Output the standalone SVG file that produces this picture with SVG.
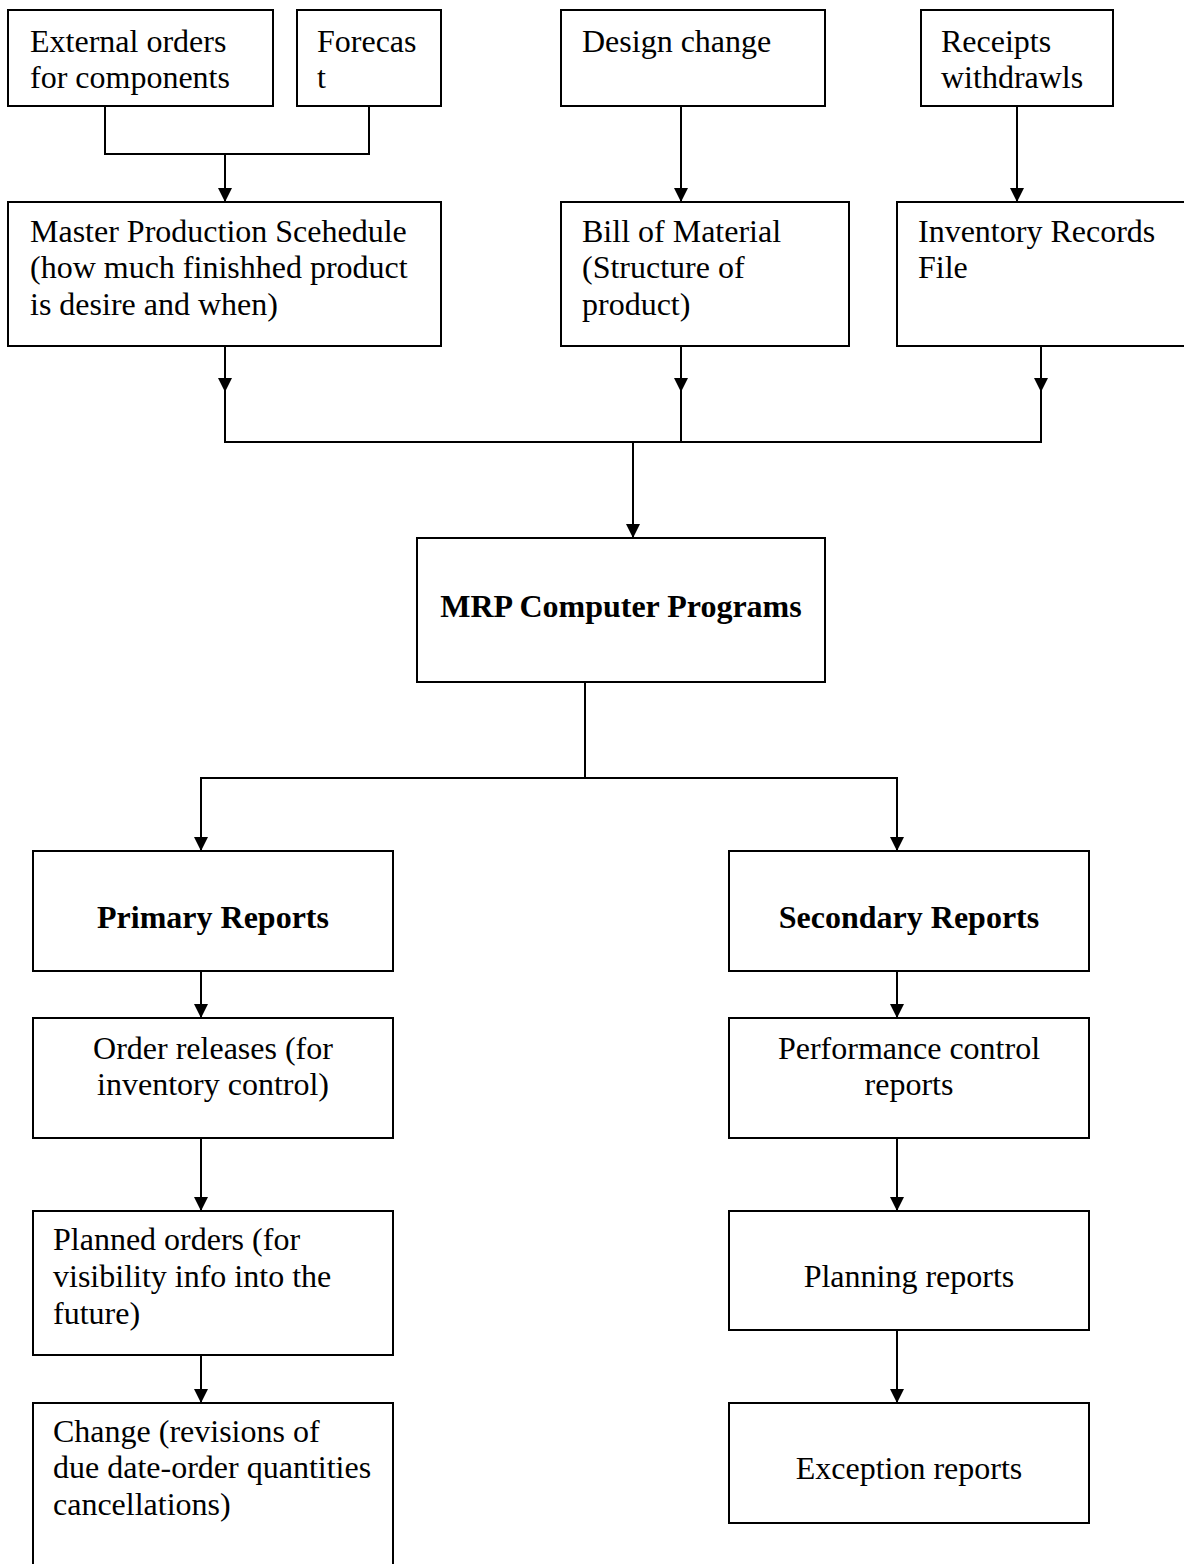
<svg xmlns="http://www.w3.org/2000/svg" width="1184" height="1564" viewBox="0 0 1184 1564">
<style>
.box{fill:#fff;stroke:#000;stroke-width:2}
.t{font-family:"Liberation Serif","Times New Roman",serif;font-size:32px;fill:#000}
.b{font-weight:bold}
.c{text-anchor:middle}
.ln{fill:none;stroke:#000;stroke-width:2}
</style>
<defs>
<marker id="ah" viewBox="0 0 10 10" refX="10" refY="5" markerWidth="14" markerHeight="15" markerUnits="userSpaceOnUse" orient="auto">
<path d="M0,0 L10,5 L0,10 z" fill="#000"/>
</marker>
</defs>
<rect width="1184" height="1564" fill="#fff"/>
<g id="connectors">
<path class="ln" d="M105,106 V154 H369 V106"/>
<path class="ln" d="M225,154 V202" marker-end="url(#ah)"/>
<path class="ln" d="M681,106 V202" marker-end="url(#ah)"/>
<path class="ln" d="M1017,106 V202" marker-end="url(#ah)"/>
<path class="ln" d="M225,346 V392" marker-end="url(#ah)"/>
<path class="ln" d="M681,346 V392" marker-end="url(#ah)"/>
<path class="ln" d="M1041,346 V392" marker-end="url(#ah)"/>
<path class="ln" d="M225,390 V442 H1041 V390"/>
<path class="ln" d="M681,390 V442"/>
<path class="ln" d="M633,442 V538" marker-end="url(#ah)"/>
<path class="ln" d="M585,682 V778"/>
<path class="ln" d="M585,778 H201 V851" marker-end="url(#ah)"/>
<path class="ln" d="M585,778 H897 V851" marker-end="url(#ah)"/>
<path class="ln" d="M201,971 V1018" marker-end="url(#ah)"/>
<path class="ln" d="M201,1138 V1211" marker-end="url(#ah)"/>
<path class="ln" d="M201,1355 V1403" marker-end="url(#ah)"/>
<path class="ln" d="M897,971 V1018" marker-end="url(#ah)"/>
<path class="ln" d="M897,1138 V1211" marker-end="url(#ah)"/>
<path class="ln" d="M897,1330 V1403" marker-end="url(#ah)"/>
</g>
<g id="external">
<rect class="box" x="8" y="10" width="265" height="96"/>
<text class="t" x="30" y="52">External orders</text>
<text class="t" x="30" y="88">for components</text>
</g>
<g id="forecast">
<rect class="box" x="297" y="10" width="144" height="96"/>
<text class="t" x="317" y="52">Forecas</text>
<text class="t" x="317" y="88">t</text>
</g>
<g id="design">
<rect class="box" x="561" y="10" width="264" height="96"/>
<text class="t" x="582" y="52">Design change</text>
</g>
<g id="receipts">
<rect class="box" x="921" y="10" width="192" height="96"/>
<text class="t" x="941" y="52">Receipts</text>
<text class="t" x="941" y="88">withdrawls</text>
</g>
<g id="mps">
<rect class="box" x="8" y="202" width="433" height="144"/>
<text class="t" x="30" y="242">Master Production Scehedule</text>
<text class="t" x="30" y="278">(how much finishhed product</text>
<text class="t" x="30" y="315">is desire and when)</text>
</g>
<g id="bom">
<rect class="box" x="561" y="202" width="288" height="144"/>
<text class="t" x="582" y="242">Bill of Material</text>
<text class="t" x="582" y="278">(Structure of</text>
<text class="t" x="582" y="315">product)</text>
</g>
<g id="inventory">
<rect class="box" x="897" y="202" width="300" height="144"/>
<text class="t" x="918" y="242">Inventory Records</text>
<text class="t" x="918" y="278">File</text>
</g>
<g id="mrp">
<rect class="box" x="417" y="538" width="408" height="144"/>
<text class="t b c" x="621" y="617">MRP Computer Programs</text>
</g>
<g id="primary">
<rect class="box" x="33" y="851" width="360" height="120"/>
<text class="t b c" x="213" y="928">Primary Reports</text>
</g>
<g id="secondary">
<rect class="box" x="729" y="851" width="360" height="120"/>
<text class="t b c" x="909" y="928">Secondary Reports</text>
</g>
<g id="order-releases">
<rect class="box" x="33" y="1018" width="360" height="120"/>
<text class="t c" x="213" y="1059">Order releases (for</text>
<text class="t c" x="213" y="1095">inventory control)</text>
</g>
<g id="performance">
<rect class="box" x="729" y="1018" width="360" height="120"/>
<text class="t c" x="909" y="1059">Performance control</text>
<text class="t c" x="909" y="1095">reports</text>
</g>
<g id="planned">
<rect class="box" x="33" y="1211" width="360" height="144"/>
<text class="t" x="53" y="1250">Planned orders (for</text>
<text class="t" x="53" y="1287">visibility info into the</text>
<text class="t" x="53" y="1324">future)</text>
</g>
<g id="planning">
<rect class="box" x="729" y="1211" width="360" height="119"/>
<text class="t c" x="909" y="1287">Planning reports</text>
</g>
<g id="change">
<rect class="box" x="33" y="1403" width="360" height="180"/>
<text class="t" x="53" y="1442">Change (revisions of</text>
<text class="t" x="53" y="1478">due date-order quantities</text>
<text class="t" x="53" y="1515">cancellations)</text>
</g>
<g id="exception">
<rect class="box" x="729" y="1403" width="360" height="120"/>
<text class="t c" x="909" y="1479">Exception reports</text>
</g>
</svg>
